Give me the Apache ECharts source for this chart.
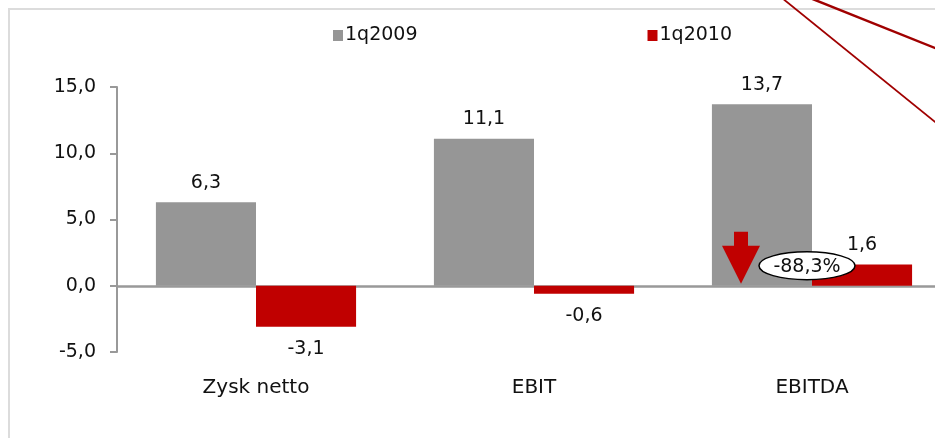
<!DOCTYPE html>
<html>
<head>
<meta charset="utf-8">
<script src="https://cdn.jsdelivr.net/npm/echarts@6/dist/echarts.min.js"></script>
<style>
  html, body { margin: 0; padding: 0; background: #fff; }
  #chart { width: 935px; height: 438px; }
</style>
</head>
<body>
<div id="chart"></div>
<script>
const categories = ['Zysk netto', 'EBIT', 'EBITDA'];
const q2009 = [6.3, 11.1, 13.7];
const q2010 = [-3.1, -0.6, 1.6];
const seriesNames = ['1q2009', '1q2010'];
const changeLabel = '-88,3%';

const FONT = 'DejaVu Sans';
const fmt = v => v.toFixed(1).replace('.', ',');

const chart = echarts.init(document.getElementById('chart'));

const label = {
    show: true,
    fontFamily: FONT,
    fontSize: 19,
    color: '#111',
    distance: 10,
    formatter: p => fmt(p.value)
};

chart.setOption({
    animation: false,
    textStyle: {fontFamily: FONT},
    // plot area runs past the right edge of the picture, like the cropped original
    grid: {left: 117, top: 87, height: 265, width: 834, containLabel: false, outerBoundsMode: 'none'},
    legend: {
        left: 328,
        top: 21,
        itemGap: 230,
        itemWidth: 10,
        itemHeight: 11,
        icon: 'rect',
        textStyle: {fontFamily: FONT, fontSize: 19, color: '#111', padding: [0, 0, 0, -3]},
        data: seriesNames
    },
    xAxis: [{
        type: 'category',
        data: categories,
        position: 'bottom',
        axisLine: {show: false, onZero: false},
        axisTick: {show: false},
        axisLabel: {fontFamily: FONT, fontSize: 20, color: '#111', margin: 26}
    }, {
        type: 'category',
        data: categories,
        axisLine: {show: true, onZero: true, lineStyle: {color: '#999', width: 2.5}},
        axisTick: {show: false},
        axisLabel: {show: false}
    }],
    yAxis: {
        type: 'value',
        min: -5,
        max: 15,
        interval: 5,
        axisLine: {show: true, lineStyle: {color: '#999', width: 2}},
        axisTick: {show: true, length: 7, lineStyle: {color: '#999', width: 2}},
        splitLine: {show: false},
        axisLabel: {fontFamily: FONT, fontSize: 19, color: '#111', margin: 21, formatter: v => fmt(v)}
    },
    series: [{
        name: seriesNames[0],
        type: 'bar',
        data: q2009,
        barGap: '0%',
        barCategoryGap: '28%',
        itemStyle: {color: '#969696'},
        label: Object.assign({position: 'top'}, label)
    }, {
        name: seriesNames[1],
        type: 'bar',
        // negative labels go below their bars
        data: q2010.map(v => ({
            value: v,
            label: {position: v < 0 ? 'bottom' : 'top', distance: v < 0 ? 13 : 10}
        })),
        itemStyle: {color: '#C00000'},
        label: label
    }]
});

// annotation on EBITDA: arrow + ellipse with percent change
const base = chart.convertToPixel({xAxisIndex: 0, yAxisIndex: 0}, [2, 0]);
const ax = base[0] - 71, ay = base[1];
chart.setOption({
    graphic: [
        {
            type: 'rect', silent: true,
            shape: {x: 9, y: 9, width: 960, height: 460},
            style: {fill: 'none', stroke: '#dcdcdc', lineWidth: 2}
        },
        {
            type: 'polygon', z: 100,
            shape: {points: [
                [ax - 7, ay - 54], [ax + 7, ay - 54], [ax + 7, ay - 40],
                [ax + 19, ay - 40], [ax, ay - 2], [ax - 19, ay - 40], [ax - 7, ay - 40]
            ]},
            style: {fill: '#C00000'}
        },
        {
            type: 'ellipse', z: 100,
            shape: {cx: base[0] - 5, cy: ay - 20, rx: 48, ry: 14},
            style: {fill: '#fff', stroke: '#000', lineWidth: 1.5}
        },
        {
            type: 'text', z: 101,
            x: base[0] - 5, y: ay - 19,
            style: {text: changeLabel, fontFamily: FONT, fontSize: 19, fill: '#111', align: 'center', verticalAlign: 'middle'}
        },
        {
            type: 'line', z: 100,
            shape: {x1: 810, y1: -2, x2: 940, y2: 50},
            style: {stroke: '#A00000', lineWidth: 2.5}
        },
        {
            type: 'line', z: 100,
            shape: {x1: 782, y1: -2, x2: 940, y2: 126},
            style: {stroke: '#A00000', lineWidth: 1.8}
        }
    ]
});
</script>
</body>
</html>
